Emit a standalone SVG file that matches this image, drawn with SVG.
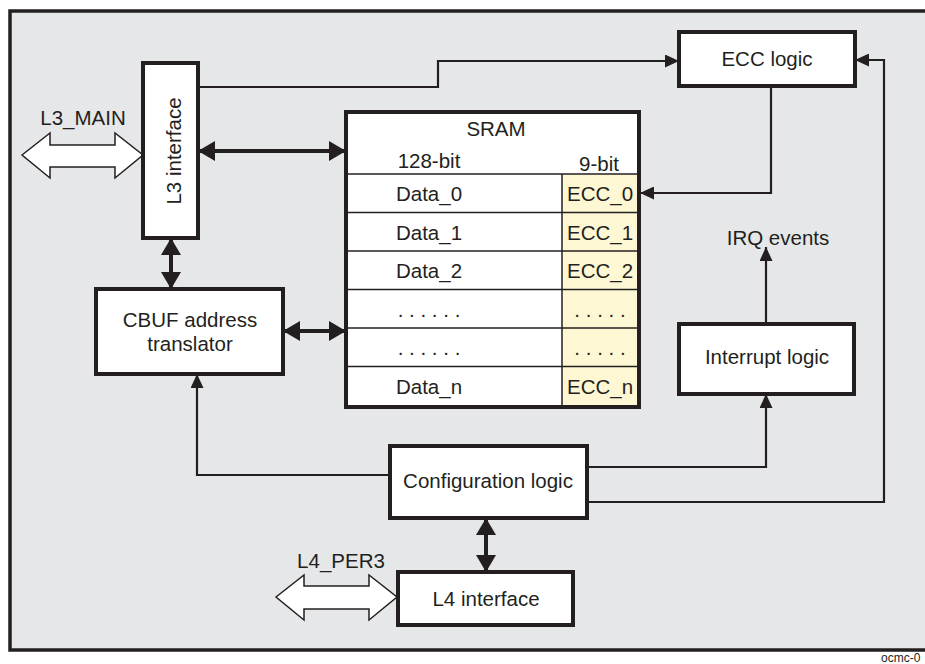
<svg xmlns="http://www.w3.org/2000/svg" width="925" height="664" viewBox="0 0 925 664">
<style>
text{font-family:"Liberation Sans",Arial,sans-serif;font-size:20.5px;fill:#231f20}
.box{fill:#fff;stroke:#231f20;stroke-width:4}
.ln{fill:none;stroke:#231f20;stroke-width:2.2}
.thk{fill:none;stroke:#231f20;stroke-width:4}
.hol{fill:#fff;stroke:#231f20;stroke-width:1.5}
.grid{stroke:#231f20;stroke-width:1.5}
.mid{text-anchor:middle}
</style>
<defs>
<marker id="a" markerUnits="userSpaceOnUse" markerWidth="14" markerHeight="13" refX="14" refY="6.5" orient="auto"><path d="M0,0L14,6.5L0,13z" fill="#231f20"/></marker>
<marker id="b" markerUnits="userSpaceOnUse" markerWidth="17" markerHeight="20" refX="17" refY="10" orient="auto-start-reverse"><path d="M0,0L17,10L0,20z" fill="#231f20"/></marker>
</defs>
<rect x="10" y="11" width="940" height="639" fill="#e6e7e8" stroke="#231f20" stroke-width="3.5"/>
<g id="connectors">
<path class="ln" d="M198,87H438V61H679" marker-end="url(#a)"/>
<path class="ln" d="M771,86V193H640" marker-end="url(#a)"/>
<path class="ln" d="M587,502H884V60H855" marker-end="url(#a)"/>
<path class="ln" d="M587,467H766V394" marker-end="url(#a)"/>
<path class="ln" d="M766,324V247" marker-end="url(#a)"/>
<path class="ln" d="M390,475H197V374" marker-end="url(#a)"/>
<path class="thk" d="M198,151H346" marker-start="url(#b)" marker-end="url(#b)"/>
<path class="thk" d="M171,238V289" marker-start="url(#b)" marker-end="url(#b)"/>
<path class="thk" d="M283,331H346" marker-start="url(#b)" marker-end="url(#b)"/>
<path class="thk" d="M486,518V572" marker-start="url(#b)" marker-end="url(#b)"/>
<polygon class="hol" points="22,155 50,133 50,145 115,145 115,133 143,155 115,178 115,167 50,167 50,178"/>
<polygon class="hol" points="276,597 304,575 304,586 369,586 369,575 397,597 369,620 369,609 304,609 304,620"/>
</g>
<text x="83" y="125" class="mid">L3_MAIN</text>
<text x="341" y="568" class="mid">L4_PER3</text>
<text x="778" y="245" class="mid">IRQ events</text>
<g id="l3">
<rect class="box" x="143" y="63" width="55" height="175"/>
<text class="mid" transform="translate(181,151) rotate(-90)">L3 interface</text>
</g>
<g id="ecc">
<rect class="box" x="679" y="32" width="176" height="54"/>
<text x="767" y="66" class="mid">ECC logic</text>
</g>
<g id="cbuf">
<rect class="box" x="96" y="289" width="187" height="85"/>
<text x="190" y="327" class="mid">CBUF address</text>
<text x="190" y="351" class="mid">translator</text>
</g>
<g id="config">
<rect class="box" x="390" y="446" width="197" height="72"/>
<text x="488" y="488" class="mid">Configuration logic</text>
</g>
<g id="intr">
<rect class="box" x="679" y="324" width="175" height="70"/>
<text x="767" y="364" class="mid">Interrupt logic</text>
</g>
<g id="l4">
<rect class="box" x="398" y="572" width="175" height="53"/>
<text x="486" y="606" class="mid">L4 interface</text>
</g>
<g id="sram">
<rect x="346" y="112" width="293" height="295" fill="#fff"/>
<rect x="562" y="174" width="77" height="233" fill="#fdf8d3"/>
<g class="grid">
<line x1="346" y1="174" x2="639" y2="174"/>
<line x1="346" y1="212.5" x2="639" y2="212.5"/>
<line x1="346" y1="251" x2="639" y2="251"/>
<line x1="346" y1="289.5" x2="639" y2="289.5"/>
<line x1="346" y1="328" x2="639" y2="328"/>
<line x1="346" y1="366.5" x2="639" y2="366.5"/>
<line x1="562" y1="174" x2="562" y2="407"/>
</g>
<rect x="346" y="112" width="293" height="295" fill="none" stroke="#231f20" stroke-width="4"/>
<text x="496" y="136" class="mid">SRAM</text>
<text x="429" y="168" class="mid">128-bit</text>
<text x="599" y="171" class="mid">9-bit</text>
<text x="429" y="201" class="mid">Data_0</text>
<text x="429" y="240" class="mid">Data_1</text>
<text x="429" y="278" class="mid">Data_2</text>
<text x="429" y="317" class="mid">. . . . . .</text>
<text x="429" y="355" class="mid">. . . . . .</text>
<text x="429" y="394" class="mid">Data_n</text>
<text x="600" y="201" class="mid">ECC_0</text>
<text x="600" y="240" class="mid">ECC_1</text>
<text x="600" y="278" class="mid">ECC_2</text>
<text x="600" y="317" class="mid">. . . . .</text>
<text x="600" y="355" class="mid">. . . . .</text>
<text x="600" y="394" class="mid">ECC_n</text>
</g>
<text x="881" y="662" style="font-size:12px">ocmc-0</text>
</svg>
